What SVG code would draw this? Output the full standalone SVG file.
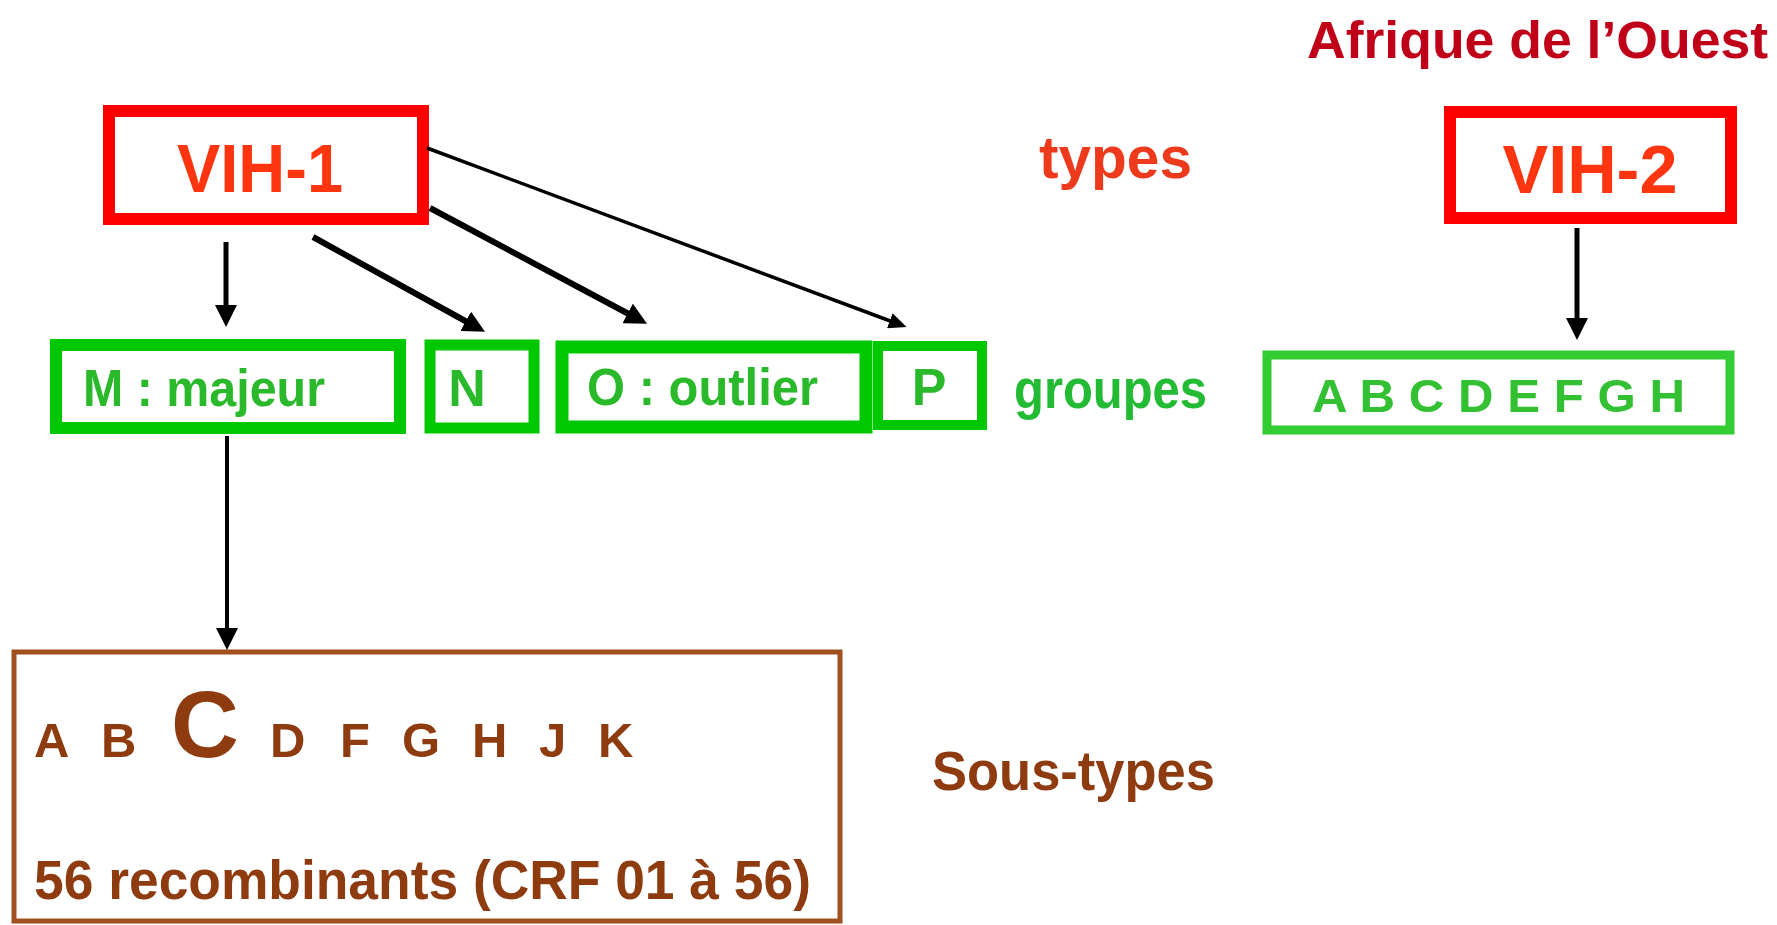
<svg xmlns="http://www.w3.org/2000/svg" width="1777" height="925" viewBox="0 0 1777 925">
<style>
  text { font-family: "Liberation Sans", Arial, sans-serif; font-weight: bold; }
  .redbox { fill: #fff; stroke: #FF0000; stroke-width: 12; }
  .vih { fill: #FF3510; font-size: 68px; text-anchor: middle; }
  .gbox { fill: #fff; stroke: #00C800; stroke-width: 12; }
  .gtxt { fill: #2AB92A; font-size: 52px; }
  .lbl-red { fill: #EE3A1C; }
  .lbl-green { fill: #22BB33; }
  .brown { fill: #8E3B10; }
  .conn { stroke: #000; fill: none; }
</style>
<defs>
  <marker id="ah" markerUnits="userSpaceOnUse" markerWidth="24" markerHeight="22" refX="14" refY="11" orient="auto">
    <path d="M0,0 L22,11 L0,22 Z" fill="#000"/>
  </marker>
  <marker id="ahs" markerUnits="userSpaceOnUse" markerWidth="20" markerHeight="16" refX="12" refY="8" orient="auto">
    <path d="M0,0 L18,8 L0,16 Z" fill="#000"/>
  </marker>
</defs>
<rect width="1777" height="925" fill="#fff"/>

<g id="label-afrique">
  <text x="1307" y="58" font-size="51" fill="#C00018" textLength="461" lengthAdjust="spacingAndGlyphs">Afrique de l’Ouest</text>
</g>
<g id="label-types">
  <text class="lbl-red" x="1039" y="178" font-size="60" textLength="153" lengthAdjust="spacingAndGlyphs">types</text>
</g>
<g id="label-groupes">
  <text class="lbl-green" x="1014" y="408" font-size="56" textLength="193" lengthAdjust="spacingAndGlyphs">groupes</text>
</g>
<g id="label-soustypes">
  <text class="brown" x="932" y="790" font-size="56" textLength="283" lengthAdjust="spacingAndGlyphs">Sous-types</text>
</g>

<g id="vih1">
  <rect class="redbox" x="109" y="111" width="314" height="108"/>
  <text class="vih" x="260" y="192" textLength="166" lengthAdjust="spacingAndGlyphs">VIH-1</text>
</g>
<g id="vih2">
  <rect class="redbox" x="1450" y="112" width="281" height="106"/>
  <text class="vih" x="1590" y="193" textLength="175" lengthAdjust="spacingAndGlyphs">VIH-2</text>
</g>

<g id="groupe-M">
  <rect class="gbox" x="56" y="345" width="344" height="83"/>
  <text class="gtxt" x="83" y="406" textLength="242" lengthAdjust="spacingAndGlyphs">M : majeur</text>
</g>
<g id="groupe-N">
  <rect class="gbox" x="430" y="345" width="104" height="83" style="stroke-width:11"/>
  <text class="gtxt" x="467" y="406" text-anchor="middle">N</text>
</g>
<g id="groupe-O">
  <rect class="gbox" x="562" y="347" width="304" height="80" style="stroke-width:13"/>
  <text class="gtxt" x="587" y="405" textLength="231" lengthAdjust="spacingAndGlyphs">O : outlier</text>
</g>
<g id="groupe-P">
  <rect class="gbox" x="878" y="346" width="104" height="79" style="stroke-width:10"/>
  <text class="gtxt" x="929" y="405" text-anchor="middle">P</text>
</g>
<g id="groupes-vih2">
  <rect x="1267" y="355" width="463" height="75" fill="#fff" stroke="#33CC33" stroke-width="9"/>
  <text x="1312" y="412" font-size="47" fill="#33C033" textLength="373" lengthAdjust="spacingAndGlyphs">A B C D E F G H</text>
</g>

<g id="sous-types">
  <rect x="14" y="652" width="826" height="269" fill="#fff" stroke="#A0501E" stroke-width="5"/>
  <text class="brown" y="757" font-size="49">
    <tspan x="34">A</tspan><tspan x="101">B</tspan><tspan x="171" font-size="94">C</tspan><tspan x="270">D</tspan><tspan x="340">F</tspan><tspan x="402">G</tspan><tspan x="472">H</tspan><tspan x="539">J</tspan><tspan x="598">K</tspan>
  </text>
  <text class="brown" x="34" y="899" font-size="55" textLength="777" lengthAdjust="spacingAndGlyphs">56 recombinants (CRF 01 à 56)</text>
</g>

<g id="connectors">
  <line class="conn" x1="226" y1="242" x2="226" y2="319" stroke-width="5" marker-end="url(#ah)"/>
  <line class="conn" x1="313" y1="237" x2="478" y2="328" stroke-width="6" marker-end="url(#ah)"/>
  <line class="conn" x1="430" y1="208" x2="640" y2="320" stroke-width="6" marker-end="url(#ah)"/>
  <line class="conn" x1="427" y1="148" x2="901" y2="325" stroke-width="3.5" marker-end="url(#ahs)"/>
  <line class="conn" x1="227" y1="436" x2="227" y2="642" stroke-width="4" marker-end="url(#ah)"/>
  <line class="conn" x1="1577" y1="228" x2="1577" y2="332" stroke-width="5" marker-end="url(#ah)"/>
</g>
</svg>
